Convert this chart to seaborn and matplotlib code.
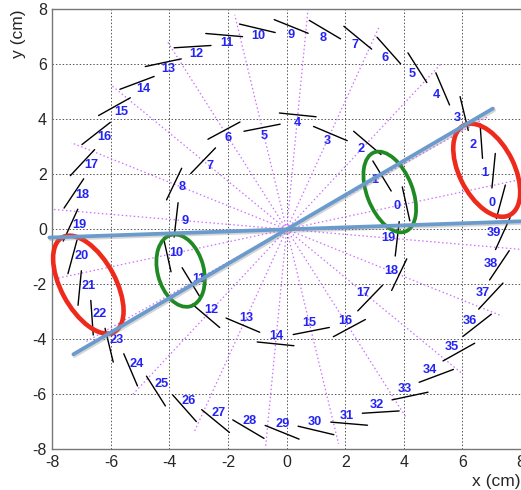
import numpy as np
import pandas as pd
import matplotlib
matplotlib.use("Agg")
import matplotlib.pyplot as plt
import matplotlib.patheffects as pe
from matplotlib.patches import Ellipse
from matplotlib.ticker import MultipleLocator
import seaborn as sns

# Straw channel numbers of the two layers
outer_ids = np.arange(40)
inner_ids = np.arange(20)

# Layer geometry (cm, degrees)
outer_radius = 7.38
outer_phase = 7.8
outer_pitch = 9.0
outer_tilt = -22.0
inner_radius_even = 4.18
inner_radius_odd = 3.79
inner_phase = 12.8
inner_pitch = 18.0
inner_tilt = -1.0
straw_length = 1.26
label_inset = 0.3
ray_length = 8.0

# Track candidates through the origin: slope and x extent
track_slopes = [0.0367, 0.624]
track_x_start = [-8.1, -7.28]
track_x_end = [8.3, 7.04]

# Hit clusters: centre, full major / minor axes, major-axis angle
ell_cx = [-6.77, 6.83, -3.62, 3.52]
ell_cy = [-2.01, 2.15, -1.50, 1.36]
ell_major = [3.87, 3.62, 2.68, 3.07]
ell_minor = [1.87, 1.89, 1.58, 1.56]
ell_angle = [-63.5, -65.4, -76.8, -70.2]
ell_color = ["#ee2a1c", "#ee2a1c", "#1f8a24", "#1f8a24"]

tick_values = [-8, -6, -4, -2, 0, 2, 4, 6, 8]


def straws(ids, radii, phase, pitch, tilt):
    phi = np.deg2rad(phase + pitch * ids)
    cx, cy = radii * np.cos(phi), radii * np.sin(phi)
    d = phi + np.deg2rad(90 + tilt)
    h = straw_length / 2
    rows = []
    for i, x0, y0, dd in zip(ids, cx, cy, d):
        rows.append((i, x0 - h * np.cos(dd), y0 - h * np.sin(dd)))
        rows.append((i, x0 + h * np.cos(dd), y0 + h * np.sin(dd)))
    seg = pd.DataFrame(rows, columns=["straw", "x", "y"])
    lab = pd.DataFrame({"straw": ids,
                        "x": (radii - label_inset) * np.cos(phi),
                        "y": (radii - label_inset) * np.sin(phi)})
    return seg, lab


outer_r = np.full(len(outer_ids), outer_radius)
inner_r = np.where(inner_ids % 2 == 0, inner_radius_even, inner_radius_odd)
outer_seg, outer_lab = straws(outer_ids, outer_r, outer_phase, outer_pitch, outer_tilt)
inner_seg, inner_lab = straws(inner_ids, inner_r, inner_phase, inner_pitch, inner_tilt)

# Rays from the origin through each inner straw
ray_phi = np.deg2rad(inner_phase + inner_pitch * inner_ids)
rays = pd.DataFrame({
    "ray": np.repeat(inner_ids, 2),
    "x": np.ravel(np.column_stack([np.zeros(len(ray_phi)), ray_length * np.cos(ray_phi)])),
    "y": np.ravel(np.column_stack([np.zeros(len(ray_phi)), ray_length * np.sin(ray_phi)])),
})

tracks = pd.DataFrame({
    "track": [0, 0, 1, 1],
    "x": [track_x_start[0], track_x_end[0], track_x_start[1], track_x_end[1]],
})
tracks["y"] = tracks["x"] * np.array(track_slopes)[tracks["track"]]

sns.set_style("white")
plt.rcParams["font.family"] = ["Liberation Sans", "DejaVu Sans"]
plt.rcParams["axes.unicode_minus"] = False

fig = plt.figure(figsize=(5.21, 4.90), dpi=100)
ax = fig.add_axes([0.1004, 0.0829, 0.8996, 0.898])

sns.lineplot(data=rays, x="x", y="y", units="ray", estimator=None, sort=False,
             color="#cc70ff", lw=0.9, ax=ax, legend=False, zorder=2)
for l in ax.lines:
    l.set_linestyle((0, (1.2, 2.0)))

sns.lineplot(data=pd.concat([outer_seg, inner_seg.assign(straw=inner_seg["straw"] + 100)]),
             x="x", y="y", units="straw", estimator=None, sort=False,
             color="black", lw=1.0, ax=ax, legend=False, zorder=3)

for lab in (outer_lab, inner_lab):
    for _, r in lab.iterrows():
        ax.text(r["x"], r["y"], str(int(r["straw"])), color="#2323f5",
                fontsize=9.2, fontweight="bold", ha="center", va="center", zorder=4)

for cx, cy, w, h, a, c in zip(ell_cx, ell_cy, ell_major, ell_minor, ell_angle, ell_color):
    ax.add_patch(Ellipse((cx, cy), w, h, angle=a, fill=False, edgecolor=c,
                         lw=3.3 if c == "#ee2a1c" else 2.7, zorder=5, clip_on=False))

n_before = len(ax.lines)
sns.lineplot(data=tracks, x="x", y="y", units="track", estimator=None, sort=False,
             color="#6b9bcc", lw=2.7, ax=ax, legend=False, zorder=6)
for l in ax.lines[n_before:]:
    l.set_clip_on(False)
    l.set_path_effects([pe.SimpleLineShadow(offset=(0.8, -1.2), shadow_color="#888888", alpha=0.35),
                        pe.Normal()])

ax.set_xlim(-8, 8)
ax.set_ylim(-8, 8)
ax.set_xticks(tick_values)
ax.set_yticks(tick_values)
ax.xaxis.set_minor_locator(MultipleLocator(0.5))
ax.yaxis.set_minor_locator(MultipleLocator(0.5))
ax.grid(True, which="major", color="#555555", lw=0.7, ls=(0, (1.5, 2.0)))
ax.set_axisbelow(True)
ax.tick_params(which="major", direction="in", length=8, width=0.8, color="#444444",
               labelsize=11.5, pad=4, top=False, right=False)
ax.tick_params(which="minor", direction="in", length=4.5, width=0.8, color="#444444",
               top=False, right=False)
for s in ("left", "bottom", "top"):
    ax.spines[s].set_color("#777777")
    ax.spines[s].set_linewidth(1.0)
ax.spines["right"].set_visible(False)
ax.set_xlabel("")
ax.set_ylabel("")

fig.text(0.999, 0.018, "x (cm)", ha="right", va="center", fontsize=12.5)
fig.text(0.035, 0.98, "y (cm)", ha="center", va="top", rotation=90, fontsize=12.5)

fig.savefig("out.png", dpi=100)
